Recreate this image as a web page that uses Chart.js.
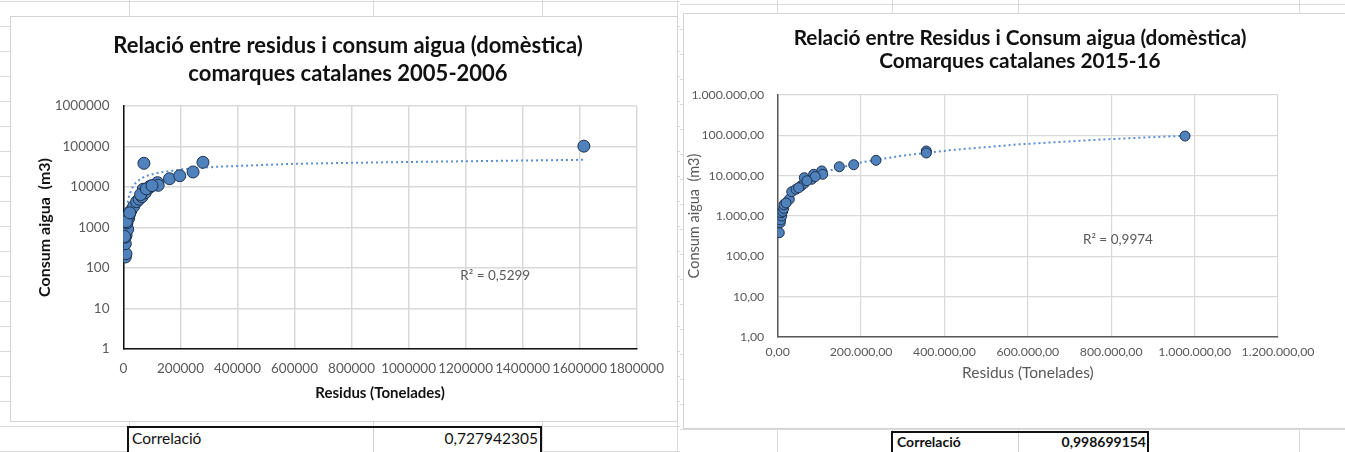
<!DOCTYPE html>
<html lang="ca">
<head>
<meta charset="utf-8">
<title>Residus i consum d'aigua</title>
<script src="https://cdn.jsdelivr.net/npm/chart.js@4/dist/chart.umd.min.js"></script>
<style>
  html, body { margin: 0; padding: 0; background: #fff; }
  body { width: 1345px; height: 452px; position: relative; overflow: hidden; font-family: Lato, "Open Sans", sans-serif; }
  .sheet { position: absolute; top: 0; height: 452px; overflow: hidden; }
  .hline { position: absolute; left: 0; right: 0; height: 1px; background: #dadada; }
  .vline { position: absolute; top: 0; bottom: 0; width: 1px; background: #dadada; }
  .panel { position: absolute; background: #fff; border: 1px solid #d4d4d4; }
  .panel canvas { position: absolute; left: 0; top: 0; }
  .corr { position: absolute; border: 2px solid #111; background: #fff; color: #111; box-sizing: border-box; }
  .corr span { position: absolute; top: 1px; white-space: nowrap; }
  .corr .sep { position: absolute; top: 0; bottom: 0; width: 1px; background: #cfcfcf; }
</style>
</head>
<body>

<div class="sheet" id="sheetL" style="left:0;width:680px;"></div>
<div class="sheet" id="sheetR" style="left:680px;width:665px;"></div>

<div class="panel" style="left:10px;top:16px;width:666px;height:404px;">
  <canvas id="chart0506" width="665" height="400"></canvas>
</div>
<div class="panel" style="left:683px;top:13px;width:680px;height:414px;border-right:none;">
  <canvas id="chart1516" width="662" height="410"></canvas>
</div>

<div class="corr" style="left:127px;top:426px;width:415px;height:30px;font-size:15.5px;">
  <div class="sep" style="left:244px;"></div>
  <span id="corrLabelL" style="left:3px;"></span>
  <span id="corrValueL" style="right:2px;"></span>
</div>
<div class="corr" style="left:891px;top:431px;width:258px;height:26px;font-size:14px;font-weight:bold;">
  <div class="sep" style="left:125px;"></div>
  <span id="corrLabelR" style="left:4px;top:0;"></span>
  <span id="corrValueR" style="right:1px;top:0;"></span>
</div>

<script>
// ---- 2005-2006: residus (tones) and domestic water use (m3) per comarca ----
const residus0506 = [6300, 8700, 6300, 6300, 9000, 11100, 14600, 12000, 18100, 20400, 16000, 25100,
  35600, 46000, 55000, 64600, 69200, 76100, 71600, 90100, 93600, 119400, 121600, 161300, 197300,
  244000, 278700, 1615000, 4000, 10000, 22000, 60000, 80000, 100000];
const consum0506 = [187, 225, 398, 582, 650, 1090, 900, 1300, 1690, 2110, 1900, 2560,
  3330, 4340, 5000, 5760, 8800, 7200, 38500, 9600, 10500, 12800, 11000, 16000, 19000,
  23500, 40700, 102000, 600, 1400, 2300, 6500, 9000, 10800];
// logarithmic trend line
const trendX0506 = [14600, 20000, 26200, 34000, 43600, 60000, 78500, 125000, 206700, 323000, 602000, 1000000, 1615000];
const trendY0506 = [4100, 6300, 7950, 10500, 12800, 16000, 18700, 22600, 27400, 31500, 37500, 41500, 47000];
const r2Text0506 = 'R² = 0,5299';
const corr0506 = '0,727942305';

// ---- 2015-16 ----
const residus1516 = [3800, 6200, 7000, 9600, 8000, 12000, 14400, 17500, 15000, 27800, 33600, 43900,
  55900, 63800, 63800, 81500, 86300, 105500, 107900, 90000, 147800, 182300, 235800, 356500,
  356500, 977000, 20000, 50000, 70000];
const consum1516 = [385, 683, 800, 1000, 1200, 1300, 1550, 2020, 1900, 2600, 4000, 4600,
  5550, 6470, 8900, 8130, 10800, 13100, 10800, 9500, 16600, 18700, 24000, 40900,
  36500, 96000, 2100, 5000, 7500];
// power trend line
const trendX1516 = [3800, 10000, 20000, 40000, 70000, 120000, 200000, 300000, 415000, 580000, 780000, 977000];
const trendY1516 = [470, 1200, 2400, 4700, 7900, 13100, 21300, 31500, 43000, 60000, 79000, 98000];
const r2Text1516 = 'R² = 0,9974';
const corr1516 = '0,998699154';

// ---- axis ticks and labels ----
const xTicks0506 = [0, 200000, 400000, 600000, 800000, 1000000, 1200000, 1400000, 1600000, 1800000];
const xLabels0506 = ['0', '200000', '400000', '600000', '800000', '1000000', '1200000', '1400000', '1600000', '1800000'];
const yTicks = [1, 10, 100, 1000, 10000, 100000, 1000000];
const yLabels0506 = ['1', '10', '100', '1000', '10000', '100000', '1000000'];
const xTicks1516 = [0, 200000, 400000, 600000, 800000, 1000000, 1200000];
const xLabels1516 = ['0,00', '200.000,00', '400.000,00', '600.000,00', '800.000,00', '1.000.000,00', '1.200.000,00'];
const yLabels1516 = ['1,00', '10,00', '100,00', '1.000,00', '10.000,00', '100.000,00', '1.000.000,00'];

const title0506 = ['Relació entre residus i consum aigua (domèstica)', 'comarques catalanes 2005-2006'];
const title1516 = ['Relació entre Residus i Consum aigua (domèstica)', 'Comarques catalanes 2015-16'];

const FONT = 'Lato, "Open Sans", sans-serif';
const pairs = (xs, ys) => xs.map((x, i) => ({ x: x, y: ys[i] }));

document.getElementById('corrLabelL').textContent = 'Correlació';
document.getElementById('corrValueL').textContent = corr0506;
document.getElementById('corrLabelR').textContent = 'Correlació';
document.getElementById('corrValueR').textContent = corr1516;

// spreadsheet cell grid behind the charts
function sheetGrid(id, rowStart, cols) {
  const el = document.getElementById(id);
  for (let y = rowStart; y < 452; y += 25) {
    const d = document.createElement('div'); d.className = 'hline'; d.style.top = y + 'px'; el.appendChild(d);
  }
  cols.forEach(x => {
    const d = document.createElement('div'); d.className = 'vline'; d.style.left = x + 'px'; el.appendChild(d);
  });
}
sheetGrid('sheetL', 1, [129, 373, 542, 677]);
sheetGrid('sheetR', 4, [97, 212, 338, 619]);

// R² text placed at a data position of the chart
const r2Plugin = {
  id: 'r2label',
  afterDatasetsDraw(chart, args, opts) {
    const { ctx, scales } = chart;
    ctx.save();
    ctx.font = opts.size + 'px ' + FONT;
    ctx.fillStyle = '#595959';
    ctx.textAlign = 'center';
    ctx.textBaseline = 'middle';
    ctx.fillText(opts.text, scales.x.getPixelForValue(opts.x), scales.y.getPixelForValue(opts.y));
    ctx.restore();
  }
};

// two-line chart heading centred over the whole chart frame (space reserved via layout padding)
const headingPlugin = {
  id: 'heading',
  afterDraw(chart, args, opts) {
    const { ctx } = chart;
    ctx.save();
    ctx.font = 'bold ' + opts.size + 'px ' + FONT;
    ctx.fillStyle = '#111';
    ctx.textAlign = 'center';
    ctx.textBaseline = 'middle';
    opts.lines.forEach((line, i) => ctx.fillText(line, opts.cx, opts.y0 + i * opts.lh));
    ctx.restore();
  }
};

function makeChart(canvasId, cfg) {
  return new Chart(document.getElementById(canvasId), {
    type: 'scatter',
    data: {
      datasets: [
        {
          label: 'Consum aigua',
          data: pairs(cfg.xs, cfg.ys),
          pointRadius: cfg.radius,
          pointHoverRadius: cfg.radius,
          backgroundColor: '#4f81bd',
          borderColor: '#1d324d',
          borderWidth: 1,
          order: 1
        },
        {
          type: 'line',
          label: 'Tendència',
          data: pairs(cfg.tx, cfg.ty),
          borderColor: '#5b8fd2',
          borderWidth: 2,
          borderDash: [2, 3],
          pointRadius: 0,
          fill: false,
          tension: 0,
          order: 2
        }
      ]
    },
    options: {
      responsive: false,
      animation: false,
      devicePixelRatio: 1,
      layout: { padding: { left: 0, right: cfg.padRight, top: cfg.padTop, bottom: 0 } },
      plugins: {
        legend: { display: false },
        tooltip: { enabled: false },
        title: { display: false },
        heading: cfg.heading,
        r2label: cfg.r2
      },
      scales: {
        x: {
          type: 'linear',
          min: cfg.xTicks[0],
          max: cfg.xTicks[cfg.xTicks.length - 1],
          afterBuildTicks: s => { s.ticks = cfg.xTicks.map(v => ({ value: v })); },
          afterFit: s => { s.height = cfg.xHeight; },
          grid: { color: '#d9d9d9', lineWidth: cfg.gridW, drawTicks: false },
          border: { color: cfg.axisColor, width: cfg.axisW },
          ticks: {
            autoSkip: false, maxRotation: 0, padding: cfg.xTickPad, color: '#595959',
            font: { family: FONT, size: cfg.tickSize },
            callback: (v, i) => cfg.xLabels[i]
          },
          title: {
            display: true, text: 'Residus (Tonelades)', color: cfg.axTitleColor,
            font: { family: FONT, size: cfg.xTitleSize, weight: cfg.axTitleWeight },
            padding: { top: 0, bottom: cfg.xTitlePad }
          }
        },
        y: {
          type: 'logarithmic',
          min: yTicks[0],
          max: yTicks[yTicks.length - 1],
          afterBuildTicks: s => { s.ticks = yTicks.map(v => ({ value: v })); },
          afterFit: s => { s.width = cfg.yWidth; },
          grid: { color: '#d9d9d9', lineWidth: cfg.gridW, drawTicks: false },
          border: { color: cfg.axisColor, width: cfg.axisW },
          ticks: {
            padding: cfg.yTickPad, color: '#595959',
            font: { family: FONT, size: cfg.tickSize },
            callback: (v, i) => cfg.yLabels[i]
          },
          title: {
            display: true, text: cfg.yTitle, color: cfg.axTitleColor,
            font: { family: FONT, size: cfg.yTitleSize, weight: cfg.axTitleWeight },
            padding: { top: cfg.yTitlePad, bottom: 0 }
          }
        }
      }
    },
    plugins: [r2Plugin, headingPlugin]
  });
}

makeChart('chart0506', {
  xs: residus0506, ys: consum0506, tx: trendX0506, ty: trendY0506, radius: 6,
  heading: { lines: title0506, size: 22, cx: 337, y0: 29, lh: 28 }, padTop: 89,
  padRight: 37, xTicks: xTicks0506, xLabels: xLabels0506, yLabels: yLabels0506,
  xHeight: 68, yWidth: 112.5, gridW: 1.5, axisColor: '#111', axisW: 1.5,
  xTickPad: 12, yTickPad: 14, tickSize: 13.5,
  axTitleColor: '#111', xTitleSize: 15, yTitleSize: 16, axTitleWeight: 'bold', xTitlePad: 15, yTitlePad: 24,
  yTitle: 'Consum aigua  (m3)',
  r2: { text: r2Text0506, x: 1304000, y: 63, size: 13.5 }
});

makeChart('chart1516', {
  xs: residus1516, ys: consum1516, tx: trendX1516, ty: trendY1516, radius: 5,
  heading: { lines: title1516, size: 20.8, cx: 336, y0: 24, lh: 23 }, padTop: 81,
  padRight: 68, xTicks: xTicks1516, xLabels: xLabels1516, yLabels: yLabels1516,
  xHeight: 87, yWidth: 93.7, gridW: 1.2, axisColor: '#595959', axisW: 1.5,
  xTickPad: 8, yTickPad: 13.5, tickSize: 12.3,
  axTitleColor: '#595959', xTitleSize: 15.5, yTitleSize: 14.5, axTitleWeight: 'normal', xTitlePad: 42, yTitlePad: 1.5,
  yTitle: 'Consum aigua  (m3)',
  r2: { text: r2Text1516, x: 816000, y: 254, size: 13.5 }
});
</script>
</body>
</html>
